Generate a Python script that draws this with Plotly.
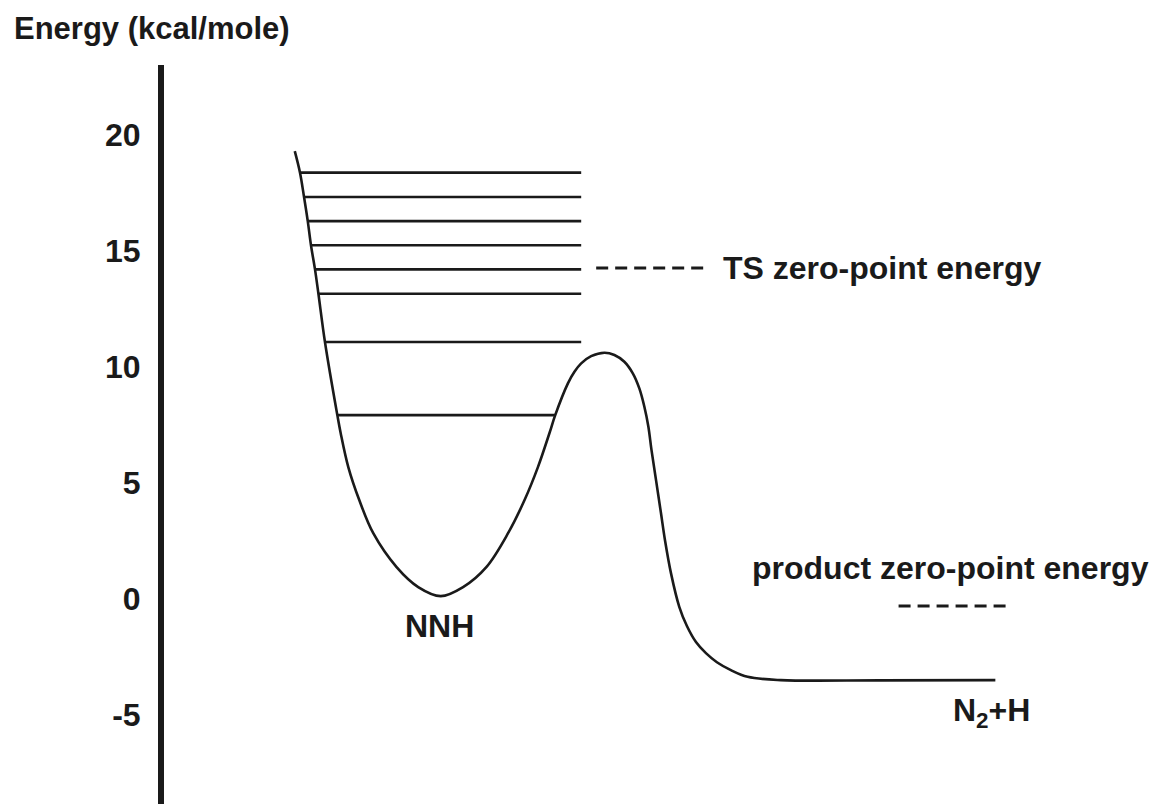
import numpy as np
import plotly.graph_objects as go

# Potential energy curve (reaction coordinate in arbitrary units, energy in kcal/mole)
curve_x = [13.00, 13.52, 13.92, 14.29, 14.61, 15.01, 15.35, 16.00, 17.23, 17.56, 18.32, 19.41,
           20.80, 23.12, 25.27, 27.51, 29.73, 32.04, 34.20, 35.84, 37.17, 38.32, 38.89,
           40.15, 40.80, 41.47, 42.46, 43.78, 44.77, 45.76, 46.60, 47.25, 47.75, 48.15, 48.46,
           48.91, 49.40, 49.80, 50.40, 51.22, 51.98, 52.88, 53.87, 54.96, 56.35, 58.01, 61.31,
           71.2, 82.64]
curve_y = [19.31, 18.38, 17.33, 16.29, 15.25, 14.21, 13.16, 11.08, 7.93, 7.16, 5.69, 4.27,
           2.84, 1.38, 0.52, 0.13, 0.52, 1.38, 2.84, 4.27, 5.69, 7.16, 7.93,
           9.30, 9.80, 10.16, 10.47, 10.62, 10.52, 10.23, 9.73, 9.08, 8.29, 7.43, 6.42,
           5.13, 3.71, 2.54, 1.11, -0.33, -1.16, -1.85, -2.33, -2.72, -3.06, -3.35, -3.49,
           -3.50, -3.49]

# Vibrational levels of NNH (kcal/mole)
levels = [18.38, 17.33, 16.29, 15.25, 14.21, 13.16, 11.08, 7.93]
level_right_end = 41.47

ts_zpe = 14.27
ts_zpe_x = [42.96, 53.87]
product_zpe = -0.30
product_zpe_x = [73.02, 83.83]

tick_vals = [-5, 0, 5, 10, 15, 20]
tick_text = ["-5", "0", "5", "10", "15", "20"]

INK = "#1a1a1a"
FONT = "Liberation Sans, Arial, sans-serif"

fig = go.Figure()

fig.add_trace(go.Scatter(x=curve_x, y=curve_y, mode="lines",
                         line=dict(color=INK, width=2.6, shape="spline", smoothing=1.0),
                         hoverinfo="skip", showlegend=False))

# level endpoints from the curve branches
cx = np.array(curve_x)
cy = np.array(curve_y)
i_min = int(np.argmin(cy[:20]))
i_peak = i_min + int(np.argmax(cy[i_min:]))
left_x, left_y = cx[:i_min + 1][::-1], cy[:i_min + 1][::-1]
right_x, right_y = cx[i_min:i_peak + 1], cy[i_min:i_peak + 1]

for lv in levels:
    x0 = float(np.interp(lv, left_y, left_x))
    if lv < right_y.max():
        x1 = min(level_right_end, float(np.interp(lv, right_y, right_x)))
    else:
        x1 = level_right_end
    fig.add_trace(go.Scatter(x=[x0, x1], y=[lv, lv], mode="lines",
                             line=dict(color=INK, width=2.6),
                             hoverinfo="skip", showlegend=False))

for xs, yv in [(ts_zpe_x, ts_zpe), (product_zpe_x, product_zpe)]:
    fig.add_trace(go.Scatter(x=xs, y=[yv, yv], mode="lines",
                             line=dict(color=INK, width=3, dash="12px,7px"),
                             hoverinfo="skip", showlegend=False))

lab_font = dict(family=FONT, size=32, color=INK, weight="bold")
fig.add_annotation(x=55.36, y=ts_zpe, text="TS zero-point energy", showarrow=False,
                   xanchor="left", yanchor="middle", font=lab_font)
fig.add_annotation(x=78.17, y=1.34, text="product zero-point energy", showarrow=False,
                   xanchor="center", yanchor="middle", font=lab_font)
fig.add_annotation(x=27.38, y=-1.16, text="NNH", showarrow=False,
                   xanchor="center", yanchor="middle", font=lab_font)
fig.add_annotation(x=82.3, y=-4.9, text="N<sub>2</sub>+H", showarrow=False,
                   xanchor="center", yanchor="middle", font=lab_font)

fig.update_layout(
    width=1170, height=804,
    margin=dict(l=164, r=0, t=65, b=0),
    paper_bgcolor="white", plot_bgcolor="white",
    hovermode=False,
    title=dict(text="Energy (kcal/mole)", x=14 / 1170, xanchor="left", xref="container",
               y=1 - 28 / 804, yanchor="middle", yref="container",
               font=dict(family=FONT, size=31, color=INK, weight="bold")),
    xaxis=dict(range=[0, 100], visible=False, fixedrange=True),
    yaxis=dict(range=[-8.83, 23.02], showgrid=False, zeroline=False,
               showline=True, linecolor=INK, linewidth=6,
               tickmode="array", tickvals=tick_vals, ticktext=tick_text,
               ticks="", ticklabelstandoff=11,
               tickfont=dict(family=FONT, size=32, color=INK, weight="bold"),
               fixedrange=True),
)

fig.write_html("out.html", config={"displayModeBar": False},
               post_script="document.body.style.margin='0';")
